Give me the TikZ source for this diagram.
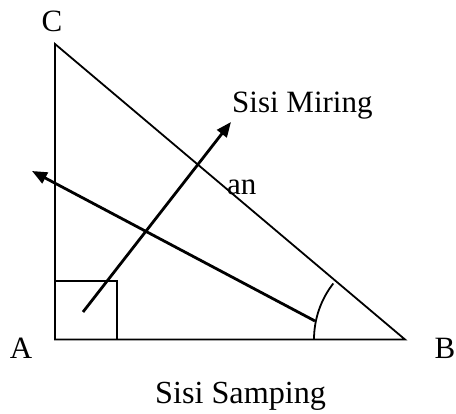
\documentclass[tikz,border=0pt]{standalone}
\usepackage{fontspec}
\setmainfont{Liberation Serif}
\usetikzlibrary{arrows.meta}
\begin{document}
\begin{tikzpicture}[x=1pt,y=1pt,
  edge/.style={line width=1.8pt},
  pointer/.style={line width=2.8pt,-{Triangle[length=15pt,width=12pt]}},
  lbl/.style={inner sep=0pt,anchor=base,font=\fontsize{31}{36}\selectfont},
  lblw/.style={inner sep=0pt,anchor=base west,font=\fontsize{31}{36}\selectfont}]
\useasboundingbox (0,0) rectangle (456,414);
\coordinate (A) at (55,74.5);
\coordinate (B) at (405,74.5);
\coordinate (C) at (55,370);
\coordinate (sqTL) at (55,133);
\coordinate (sqTR) at (117,133);
\coordinate (sqBR) at (117,74.5);
\coordinate (m1) at (83,102);
\coordinate (m2) at (231,292);
\coordinate (s1) at (315,93);
\coordinate (s2) at (32,243);
\coordinate (arcS) at (314,74.5);
% triangle
\draw[edge,line join=miter] (C) -- (A) -- (B) -- cycle;
% right angle mark
\draw[edge] (sqTL) -- (sqTR) -- (sqBR);
% angle arc at B
\draw[edge] (arcS) arc[start angle=180,end angle=142,radius=91];
% arrows
\draw[pointer] (m1) -- (m2);
\draw[pointer] (s1) -- (s2);
% labels
\node[lbl] (lC) at (52,382) {C};
\node[lbl] (lA) at (21,55) {A};
\node[lbl] (lB) at (445,55) {B};
\node[lblw] (lMiring) at (232,301) {Sisi Miring};
\node[lblw] (lan) at (227,219) {an};
\node[lblw,font=\fontsize{32.2}{38}\selectfont] (lSamping) at (155,10) {Sisi Samping};
\end{tikzpicture}
\end{document}
